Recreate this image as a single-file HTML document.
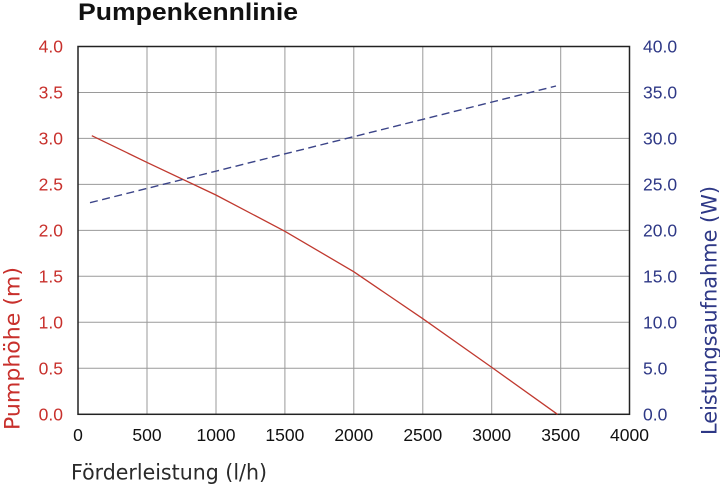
<!DOCTYPE html>
<html><head><meta charset="utf-8"><style>
html,body{margin:0;padding:0;background:#fff;}
svg{display:block;}
.ls{font-family:"Liberation Sans",Arial,Helvetica,sans-serif;}
.dv{font-family:"DejaVu Sans","Liberation Sans",sans-serif;}
</style></head><body>
<svg width="720" height="487" viewBox="0 0 720 487" xmlns="http://www.w3.org/2000/svg">
<rect width="720" height="487" fill="#fff"/>
<text class="ls" x="78" y="20" font-weight="bold" font-size="24" fill="#111" textLength="220" lengthAdjust="spacingAndGlyphs">Pumpenkennlinie</text>
<g stroke="#9a9a9a" stroke-width="1">
<line x1="147" y1="46.5" x2="147" y2="414.3"/>
<line x1="216" y1="46.5" x2="216" y2="414.3"/>
<line x1="284.9" y1="46.5" x2="284.9" y2="414.3"/>
<line x1="353.8" y1="46.5" x2="353.8" y2="414.3"/>
<line x1="422.8" y1="46.5" x2="422.8" y2="414.3"/>
<line x1="491.7" y1="46.5" x2="491.7" y2="414.3"/>
<line x1="560.7" y1="46.5" x2="560.7" y2="414.3"/>
<line x1="78" y1="92.5" x2="629.5" y2="92.5"/>
<line x1="78" y1="138.4" x2="629.5" y2="138.4"/>
<line x1="78" y1="184.4" x2="629.5" y2="184.4"/>
<line x1="78" y1="230.4" x2="629.5" y2="230.4"/>
<line x1="78" y1="276.3" x2="629.5" y2="276.3"/>
<line x1="78" y1="322.3" x2="629.5" y2="322.3"/>
<line x1="78" y1="368.3" x2="629.5" y2="368.3"/>
</g>
<rect x="78" y="46.5" width="551.5" height="367.8" fill="none" stroke="#222" stroke-width="1.5"/>
<polyline fill="none" stroke="#c0392f" stroke-width="1.3" points="91.8,135.7 147,162.4 215.9,195 284.9,231.3 353.9,271.8 422.8,318.7 491.8,367.4 557.5,414.3"/>
<line x1="90" y1="202.7" x2="556" y2="86" stroke="#3b4488" stroke-width="1.4" stroke-dasharray="8,4.5"/>
<g class="ls" font-size="17.5" fill="#c8302c" text-anchor="end">
<text x="63" y="52.5">4.0</text>
<text x="63" y="98.5">3.5</text>
<text x="63" y="144.4">3.0</text>
<text x="63" y="190.4">2.5</text>
<text x="63" y="236.4">2.0</text>
<text x="63" y="282.3">1.5</text>
<text x="63" y="328.3">1.0</text>
<text x="63" y="374.3">0.5</text>
<text x="63" y="420.3">0.0</text>
</g>
<g class="ls" font-size="17.5" fill="#2e3886" text-anchor="start">
<text x="643" y="52.5">40.0</text>
<text x="643" y="98.5">35.0</text>
<text x="643" y="144.4">30.0</text>
<text x="643" y="190.4">25.0</text>
<text x="643" y="236.4">20.0</text>
<text x="643" y="282.3">15.0</text>
<text x="643" y="328.3">10.0</text>
<text x="643" y="374.3">5.0</text>
<text x="643" y="420.3">0.0</text>
</g>
<g class="ls" font-size="17.5" fill="#111" text-anchor="middle">
<text x="78" y="441">0</text>
<text x="147" y="441">500</text>
<text x="216" y="441">1000</text>
<text x="284.9" y="441">1500</text>
<text x="353.8" y="441">2000</text>
<text x="422.8" y="441">2500</text>
<text x="491.7" y="441">3000</text>
<text x="560.7" y="441">3500</text>
<text x="629.5" y="441">4000</text>
</g>
<text class="dv" x="71" y="479.5" font-size="21" fill="#2a2a2a" textLength="196" lengthAdjust="spacingAndGlyphs">Förderleistung (l/h)</text>
<text class="dv" transform="translate(19.5,430) rotate(-90)" x="0" y="0" font-size="21" fill="#c8302c" textLength="163" lengthAdjust="spacingAndGlyphs">Pumphöhe (m)</text>
<text class="dv" transform="translate(716.5,435) rotate(-90)" x="0" y="0" font-size="21" fill="#2e3886" textLength="249" lengthAdjust="spacingAndGlyphs">Leistungsaufnahme (W)</text>
</svg>
</body></html>
